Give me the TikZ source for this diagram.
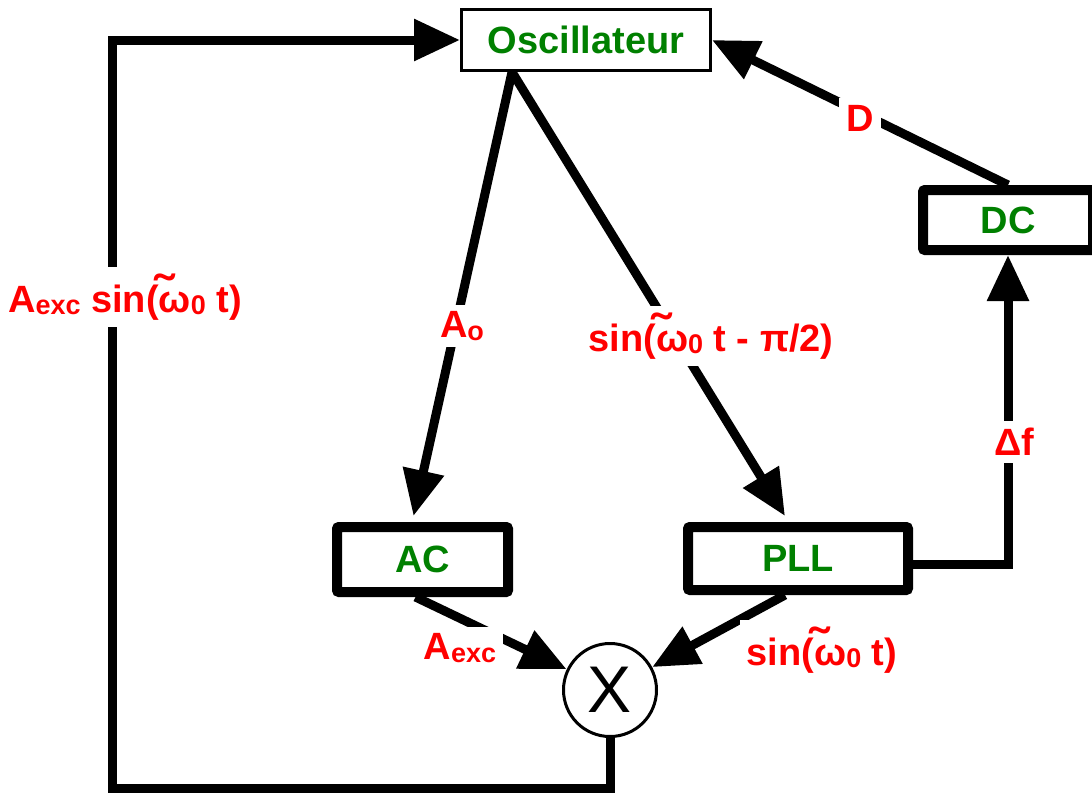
\documentclass[tikz,border=0pt]{standalone}
\usepackage{fontspec}
\setmainfont{Liberation Sans}
\usepackage{xcolor}
\usetikzlibrary{positioning,arrows.meta,calc}
\definecolor{boxgreen}{RGB}{0,128,0}
\newcommand{\lowtxt}[1]{\raisebox{-2.5pt}{\fontsize{27}{27}\selectfont #1}}
\newcommand{\omtil}{\makebox[0pt][l]{\hspace{-0.12em}\raisebox{0.08em}{\scalebox{1.5}[1.3]{\char"02DC}}}ω}

\begin{document}
\begin{tikzpicture}[x=1pt,y=-1pt,
  every node/.style={font=\fontsize{38}{42}\selectfont\bfseries},
  blk/.style={draw,line width=10pt,rounded corners=2pt,fill=white,text=boxgreen,inner sep=0pt},
  lbl/.style={text=red,fill=white,inner sep=7pt},
  arr/.style={line width=9pt,-{Triangle[length=46pt,width=40pt]}}]
\useasboundingbox (0,0) rectangle (1092,793);
% blocks
\node[draw,line width=3pt,fill=white,text=boxgreen,minimum width=249pt,minimum height=61pt,inner sep=0pt] (osc) at (586,40) {Oscillateur};
\node[blk,minimum width=171pt,minimum height=65pt] (ac) at (422.5,559.5) {AC};
\node[blk,minimum width=220pt,minimum height=63pt] (pll) at (798,558.5) {PLL};
\node[blk,minimum width=170pt,minimum height=60pt] (dc) at (1008,220) {DC};
\node[draw,circle,line width=3pt,minimum size=93pt,inner sep=0pt,font=\fontsize{66}{66}\selectfont] (mult) at (610,690) {X};
% connectors
\coordinate (oscb) at ($(osc.south)+(-74,0)$);
\coordinate (lb) at (112,788);
\draw[arr] (oscb) -- ($(ac.north)+(-9,-6)$);
\draw[arr] (oscb) -- ($(pll.north)+(-13,-6)$);
\draw[arr] (dc.north) -- (osc.east);
\draw[arr] ($(pll.east)+(0,6)$) -| (dc.south);
\draw[arr] ($(ac.south)+(-7,0)$) -- (mult);
\draw[arr] ($(pll.south)+(-13,0)$) -- (mult);
\draw[arr] (mult.south) |- (lb) |- (osc.west);
% labels
\node[lbl] (lexc) at (125,297) {A\lowtxt{exc} sin(\omtil\lowtxt{0} t)};
\node[lbl] (lao) at (462,326) {A\lowtxt{o}};
\node[lbl] (lsin) at (711,336) {sin(\omtil\lowtxt{0} t - π/2)};
\node[lbl] (ld) at (860,118) {D};
\node[lbl] (ldf) at (1014,442) {Δf};
\node[lbl] (laexc) at (460,648) {A\lowtxt{exc}};
\node[lbl] (lsin2) at (822,650) {sin(\omtil\lowtxt{0} t)};
\end{tikzpicture}
\end{document}
